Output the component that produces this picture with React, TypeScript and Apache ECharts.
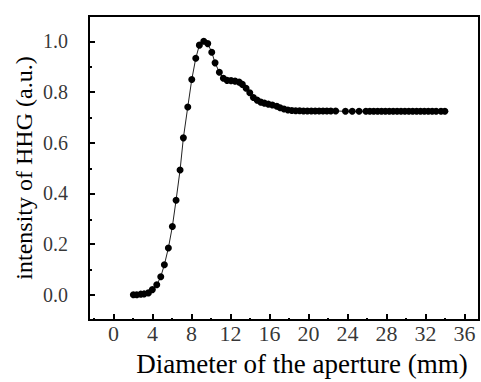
import React, { useEffect, useRef } from "react";
import * as echarts from "echarts";

const diameters = [
  2.05, 2.4, 2.81, 3.15, 3.59, 4.0, 4.45, 4.86, 5.23, 5.64, 6.05, 6.43, 6.84, 7.18, 7.63, 8.04, 8.45, 8.82,
  9.27, 9.68, 10.09, 10.43, 10.87, 11.28, 11.66, 12.07, 12.48, 12.9, 13.23, 13.61, 13.99, 14.36, 14.74,
  15.12, 15.49, 15.9, 16.31, 16.76, 17.1, 17.5, 17.9, 18.3, 18.7, 19.1, 19.5, 19.9, 20.3, 20.7, 21.1,
  21.5, 21.9, 22.3, 22.8, 23.8, 24.5, 25.2, 25.9, 26.3, 26.7, 27.1, 27.5, 27.9, 28.3, 28.7, 29.1, 29.5,
  29.9, 30.3, 30.7, 31.1, 31.5, 31.9, 32.3, 32.7, 33.1, 33.6, 34.0,
];
const intensity = [
  0.0, 0.0, 0.002, 0.003, 0.007, 0.02, 0.039, 0.071, 0.118, 0.184, 0.269, 0.373, 0.492, 0.619, 0.741,
  0.849, 0.933, 0.985, 1.0, 0.991, 0.957, 0.915, 0.878, 0.854, 0.846, 0.845, 0.843, 0.839, 0.83, 0.815,
  0.797, 0.778, 0.768, 0.76, 0.756, 0.752, 0.749, 0.744, 0.738, 0.733, 0.729, 0.727, 0.726, 0.726, 0.725,
  0.725, 0.725, 0.725, 0.725, 0.725, 0.725, 0.725, 0.725, 0.724, 0.724, 0.724, 0.724, 0.724, 0.724, 0.724,
  0.724, 0.724, 0.724, 0.724, 0.724, 0.724, 0.724, 0.724, 0.724, 0.724, 0.724, 0.724, 0.724, 0.724, 0.724,
  0.724, 0.724,
];

const xMajorTicks = [0, 4, 8, 12, 16, 20, 24, 28, 32, 36];
const xMinorTicks = [-2, 2, 6, 10, 14, 18, 22, 26, 30, 34];
const yMajorTicks = [0, 0.2, 0.4, 0.6, 0.8, 1.0];
const yMinorTicks = [0.1, 0.3, 0.5, 0.7, 0.9];

const xTitle = "Diameter of the aperture (mm)";
const yTitle = "intensity of HHG (a.u.)";

const X_MIN = -2.5;
const X_MAX = 37.5;
const Y_MIN = -0.1;
const Y_MAX = 1.1;

export default function App() {
  const ref = useRef<HTMLDivElement>(null);
  useEffect(() => {
    if (!ref.current) return;
    const chart = echarts.init(ref.current, undefined, { renderer: "svg" });
    const font = "Liberation Serif";
    const grid = { left: 89, top: 16, right: 2, bottom: 61 };
    const tickStyle = { color: "#000", width: 2 };
    chart.setOption({
      animation: false,
      backgroundColor: "#fff",
      textStyle: { fontFamily: font, color: "#000" },
      grid: [
        { ...grid, show: true, borderColor: "#000", borderWidth: 2, backgroundColor: "transparent" },
        { ...grid, show: false },
      ],
      xAxis: [
        {
          type: "value",
          gridIndex: 0,
          min: X_MIN,
          max: X_MAX,
          name: xTitle,
          nameLocation: "middle",
          nameGap: 30,
          nameTextStyle: { fontFamily: font, fontSize: 27, color: "#000", padding: [0, 0, 0, 36] },
          axisLine: { show: true, onZero: false, lineStyle: { color: "#000", width: 2 } },
          axisTick: { show: true, inside: true, length: 6, customValues: xMajorTicks, lineStyle: tickStyle },
          axisLabel: { show: false },
          splitLine: { show: false },
        },
        {
          type: "value",
          gridIndex: 1,
          min: X_MIN,
          max: X_MAX,
          axisLine: { show: false, onZero: false },
          axisTick: { show: true, inside: true, length: 3, customValues: xMinorTicks, lineStyle: tickStyle },
          axisLabel: { show: false },
          splitLine: { show: false },
        },
      ],
      yAxis: [
        {
          type: "value",
          gridIndex: 0,
          min: Y_MIN,
          max: Y_MAX,
          name: yTitle,
          nameLocation: "middle",
          nameGap: 53,
          nameRotate: 90,
          nameTextStyle: { fontFamily: font, fontSize: 24, color: "#000" },
          axisLine: { show: true, onZero: false, lineStyle: { color: "#000", width: 2 } },
          axisTick: { show: true, inside: true, length: 6, customValues: yMajorTicks, lineStyle: tickStyle },
          axisLabel: { show: false },
          splitLine: { show: false },
        },
        {
          type: "value",
          gridIndex: 1,
          min: Y_MIN,
          max: Y_MAX,
          axisLine: { show: false, onZero: false },
          axisTick: { show: true, inside: true, length: 3, customValues: yMinorTicks, lineStyle: tickStyle },
          axisLabel: { show: false },
          splitLine: { show: false },
        },
      ],
      series: [
        {
          type: "scatter",
          xAxisIndex: 0,
          yAxisIndex: 0,
          silent: true,
          clip: false,
          symbol: "circle",
          symbolSize: 0,
          itemStyle: { color: "transparent" },
          data: xMajorTicks.map((v) => [v, Y_MIN]),
          label: {
            show: true,
            position: "bottom",
            distance: 2,
            fontFamily: font,
            fontSize: 22,
            color: "#000",
            formatter: (p: any) => String(p.value[0]),
          },
        },
        {
          type: "scatter",
          xAxisIndex: 0,
          yAxisIndex: 0,
          silent: true,
          clip: false,
          symbol: "circle",
          symbolSize: 0,
          itemStyle: { color: "transparent" },
          data: yMajorTicks.map((v) => [X_MIN, v]),
          label: {
            show: true,
            position: "left",
            distance: 21,
            fontFamily: font,
            fontSize: 20,
            color: "#000",
            formatter: (p: any) => Number(p.value[1]).toFixed(1),
          },
        },
        {
          type: "line",
          xAxisIndex: 0,
          yAxisIndex: 0,
          data: diameters.map((d, i) => [d, intensity[i]]),
          symbol: "circle",
          symbolSize: 7,
          showAllSymbol: true,
          itemStyle: { color: "#000" },
          lineStyle: { color: "#222", width: 1 },
        },
      ],
    });
    return () => chart.dispose();
  }, []);
  return <div ref={ref} style={{ position: "fixed", left: 0, top: 0, width: 481, height: 382 }} />;
}
